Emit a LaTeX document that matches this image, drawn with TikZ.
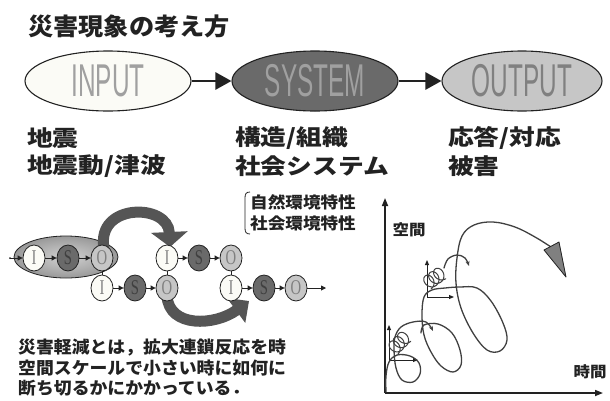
\documentclass[tikz,border=0pt]{standalone}
\usepackage{fontspec}
\newfontfamily\jp{Noto Sans CJK JP}
\newfontfamily\lsans{Liberation Sans}
\newfontfamily\lserif{Liberation Serif}
\usetikzlibrary{shapes.geometric,arrows.meta}
\definecolor{ink}{HTML}{222222}
\definecolor{sysfill}{HTML}{6A6A6A}
\definecolor{outfill}{HTML}{C6C6C6}
\definecolor{infill}{HTML}{FBFBF6}
\definecolor{lettergray}{HTML}{A0A0A0}
\definecolor{bandgray}{HTML}{555555}
\definecolor{crvgray}{HTML}{404040}
\newcommand\jx[2]{\scalebox{#1}[1]{#2}}
\newcommand\bigword[1]{\scalebox{0.53}[1]{\lsans\fontsize{46}{46}\selectfont #1}}
\newcommand\chl[1]{\scalebox{0.7}[1]{\lserif\fontsize{21}{21}\selectfont #1}}
\begin{document}
\begin{tikzpicture}[x=1pt,y=-1pt,
  lbl/.style={anchor=west,inner sep=0,text=ink,font=\jp\bfseries\fontsize{22}{22}\selectfont},
  small/.style={anchor=west,inner sep=0,text=ink,font=\jp\bfseries\fontsize{16}{16}\selectfont},
  note/.style={anchor=west,inner sep=0,text=ink,font=\jp\bfseries\fontsize{17}{17}\selectfont},
  bigell/.style={ellipse,draw=ink,line width=1.1pt,minimum width=166pt,minimum height=60pt,inner sep=0},
  bigarr/.style={draw=ink,line width=2.6pt,-{Triangle[length=16pt,width=17pt]}},
  cir/.style={ellipse,draw=ink,line width=0.8pt,minimum width=22pt,minimum height=26pt,inner sep=0,text=gray},
  cI/.style={cir,fill=infill},
  cS/.style={cir,fill=sysfill,text=darkgray},
  cO/.style={cir,fill=outfill},
  chainarr/.style={draw=ink,line width=0.9pt,-{Triangle[length=5pt,width=5pt]}},
  link/.style={draw=ink,line width=0.9pt},
  band/.style={draw=bandgray,line width=11pt},
  crv/.style={draw=crvgray,line width=1.3pt,line cap=round,line join=round},
  axarr/.style={draw=ink,line width=1.6pt,-{Triangle[length=8pt,width=6pt]}},
  smallarr/.style={draw=ink,line width=0.9pt,-{Triangle[length=5pt,width=4pt]}}
]
\useasboundingbox (0,0) rectangle (610,400);

% title
\node[anchor=west,inner sep=0,text=ink,font=\jp\bfseries\fontsize{24}{24}\selectfont] (title) at (28,26) {\jx{1.05}{災害現象の考え方}};

% top ellipses
\node[bigell,fill=infill] (inp) at (108,81) {\textcolor{lettergray}{\bigword{INPUT}}};
\node[bigell,fill=sysfill] (sys) at (315,81) {\textcolor{lettergray}{\bigword{SYSTEM}}};
\node[bigell,fill=outfill,minimum width=160pt] (out) at (522,81) {\textcolor{gray}{\bigword{OUTPUT}}};
\draw[bigarr] (inp) -- (sys);
\draw[bigarr] (sys) -- (out);

% labels under ellipses
\node[lbl] (l1a) at (27,138) {\jx{1.17}{地震}};
\node[lbl] (l1b) at (27,166) {\jx{1.17}{地震動/津波}};
\node[lbl] (l2a) at (235,138) {\jx{1.17}{構造/組織}};
\node[lbl] (l2b) at (235,166) {\jx{1.17}{社会システム}};
\node[lbl] (l3a) at (448,138) {\jx{1.17}{応答/対応}};
\node[lbl] (l3b) at (448,166) {\jx{1.17}{被害}};

% bracket text
\node[small] (b1) at (250,202) {\jx{1.1}{自然環境特性}};
\node[small] (b2) at (250,223) {\jx{1.1}{社会環境特性}};
\draw[ink,line width=0.8pt] (250,192) .. controls (246,192) and (245,194) .. (245,198) -- (245,228) .. controls (245,232) and (246,234) .. (250,234);

% chain diagram
\node[ellipse,draw=ink,line width=0.8pt,minimum width=104pt,minimum height=42pt,inner color=gray!35,outer color=gray!80] (grp) at (66,257) {};
\draw[band,-{Triangle[length=15pt,width=36pt]}] (104,248) .. controls (96,203) and (168,203) .. (170,247);
\draw[band,-{Triangle[length=16pt,width=30pt]}] (167,296) .. controls (169,328) and (215,326) .. (249,301);

\node[cI] (i1) at (34,258) {\chl{I}};
\node[cS] (s1) at (68,258) {\chl{S}};
\node[cO] (o1) at (102,258) {\chl{O}};
\node[cI] (i3) at (167,258) {\chl{I}};
\node[cS] (s3) at (199,258) {\chl{S}};
\node[cO] (o3) at (231,258) {\chl{O}};
\node[cI] (i2) at (102,288) {\chl{I}};
\node[cS] (s2) at (135,288) {\chl{S}};
\node[cO] (o2) at (167,288) {\chl{O}};
\node[cI] (i4) at (231,288) {\chl{I}};
\node[cS] (s4) at (264,288) {\chl{S}};
\node[cO] (o4) at (296,288) {\chl{O}};
\coordinate (cstart) at (10,258);
\coordinate (cend) at (326,288);
\fill[ink] (cstart) circle (1pt);
\draw[chainarr] (cstart) -- (i1);
\draw[chainarr] (i1) -- (s1);
\draw[chainarr] (s1) -- (o1);
\draw[chainarr] (i3) -- (s3);
\draw[chainarr] (s3) -- (o3);
\draw[chainarr] (i2) -- (s2);
\draw[chainarr] (s2) -- (o2);
\draw[chainarr] (i4) -- (s4);
\draw[chainarr] (s4) -- (o4);
\draw[chainarr] (o4) -- (cend);
\draw[link] (o1) -- (i2);
\draw[link] (i3) -- (o2);
\draw[link] (o3) -- (i4);

% note text
\node[note] (n1) at (18,348) {\jx{1.05}{災害軽減とは，拡大連鎖反応を時}};
\node[note] (n2) at (18,368) {\jx{1.05}{空間スケールで小さい時に如何に}};
\node[note] (n3) at (18,388) {\jx{1.05}{断ち切るかにかかっている．}};

% plot axes
\coordinate (orig) at (385,393);
\coordinate (ytip) at (385,198);
\coordinate (xtip) at (603,393);
\draw[axarr] (orig) -- (ytip);
\draw[axarr] (orig) -- (xtip);
\node[anchor=center,inner sep=0,text=ink,font=\jp\bfseries\fontsize{15}{15}\selectfont] (ylab) at (409,230) {\jx{1.1}{空間}};
\node[anchor=center,inner sep=0,text=ink,font=\jp\bfseries\fontsize{15}{15}\selectfont] (xlab) at (590,372) {\jx{1.1}{時間}};

% small axes 1 and 2
\coordinate (a1) at (389,360);
\coordinate (a1y) at (389,325);
\coordinate (a1x) at (418,360);
\draw[smallarr] (a1) -- (a1y);
\draw[smallarr] (a1) -- (a1x);
\coordinate (a2) at (427,297);
\coordinate (a2y) at (427,260);
\coordinate (a2x) at (454,297);
\draw[smallarr] (a2) -- (a2y);
\draw[smallarr] (a2) -- (a2x);

% curves
\draw[crv,-{Stealth[length=5pt,width=4pt]}] plot[smooth,tension=0.6] coordinates {(386,392) (386,376) (389,362) (397,355) (410,356) (419,363) (420,374) (413,382) (402,380) (396,368) (394,350) (395,337) (401,327) (413,322) (426,322) (433,331)};
\draw[crv] plot[smooth,tension=0.6] coordinates {(421,333) (424,325) (438,324) (452,333) (460,350) (461,365) (453,372) (441,366) (431,352) (424,335) (422,315) (424,297) (432,290) (445,288) (460,287) (477,288) (491,301) (503,323) (507,340) (500,351) (487,350) (473,333) (461,308) (456,283) (457,258) (462,236) (474,225) (493,222) (515,227) (535,237) (551,247)};
\draw[draw=ink,fill=gray,line width=0.8pt,line join=round] (544,250) -- (559,242) -- (566,277) -- cycle;
\draw[crv,-{Stealth[length=5pt,width=4pt]}] plot[smooth,tension=0.6] coordinates {(444,268) (448,259) (457,255) (465,258) (469,266)};

% springs
\begin{scope}[shift={(398,354)},rotate=45]
\draw[crv,line width=1pt] plot[domain=0:1080,samples=120,smooth] ({\x/360*6+6*sin(\x)},{7*cos(\x)-7});
\end{scope}
\begin{scope}[shift={(431,289)},rotate=35]
\draw[crv,line width=1pt] plot[domain=0:1080,samples=120,smooth] ({\x/360*6+6*sin(\x)},{7*cos(\x)-7});
\end{scope}
\end{tikzpicture}
\end{document}
